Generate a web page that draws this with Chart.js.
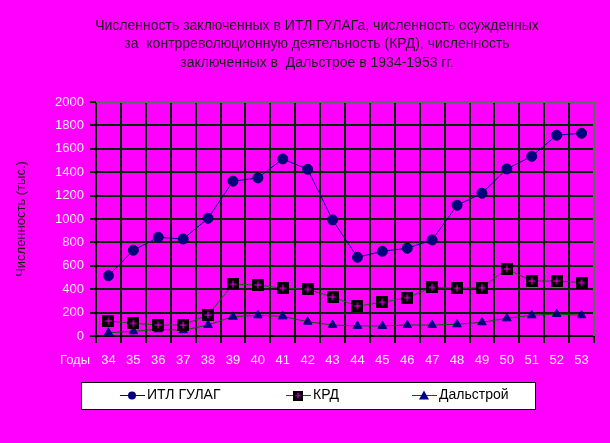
<!DOCTYPE html>
<html>
<head>
<meta charset="utf-8">
<script src="https://cdn.jsdelivr.net/npm/chart.js@4"></script>
<style>
	html, body { margin: 0; padding: 0; background: #ff00ff; }
	#wrap { width: 610px; height: 443px; }
</style>
</head>
<body>
<div id="wrap"><canvas id="myChart" width="610" height="443"></canvas></div>
<script>
const years = ['34','35','36','37','38','39','40','41','42','43','44','45','46','47','48','49','50','51','52','53'];
const gulag = [515, 733, 844, 829, 1006, 1323, 1351, 1513, 1425, 992, 673, 724, 750, 821, 1117, 1220, 1428, 1536, 1716, 1733];
const krd = [128, 108, 94, 94, 180, 442, 436, 408, 399, 333, 256, 288, 328, 416, 408, 413, 573, 470, 470, 456];
const dalstroy = [28, 40, 57, 49, 94, 165, 177, 168, 122, 94, 86, 86, 94, 94, 100, 117, 151, 177, 188, 177];
const yTicks = [0, 200, 400, 600, 800, 1000, 1200, 1400, 1600, 1800, 2000];
const titleLines = [
	'Численность заключенных в ИТЛ ГУЛАГа, численность осужденных',
	'за  контрреволюционную деятельность (КРД), численность',
	'заключенных в  Дальстрое в 1934-1953 гг.'
];
const FONT = '"Liberation Sans", Arial, sans-serif';
const GRID = '#002a00';

// black square with a magenta cross for the KRD series
function krdMarker(){
	const c = document.createElement('canvas');
	c.width = 12; c.height = 12;
	const g = c.getContext('2d');
	g.fillStyle = '#000000';
	g.fillRect(0, 0, 12, 12);
	g.strokeStyle = '#ff00ff';
	g.lineWidth = 1;
	g.beginPath();
	g.moveTo(6, 2.5); g.lineTo(6, 9.5);
	g.moveTo(2.5, 6); g.lineTo(9.5, 6);
	g.stroke();
	return c;
}
const krdPoint = krdMarker();

const decor = {
	id: 'decor',
	beforeDraw(chart){
		const ctx = chart.ctx;
		ctx.save();
		ctx.fillStyle = '#ff00ff';
		ctx.fillRect(0, 0, chart.width, chart.height);
		ctx.restore();
	},
	afterDraw(chart){
		const ctx = chart.ctx;
		const a = chart.chartArea;
		ctx.save();
		// frame of the plot
		ctx.strokeStyle = '#808080';
		ctx.lineWidth = 1.5;
		ctx.beginPath();
		ctx.moveTo(a.left, a.top); ctx.lineTo(a.right, a.top); ctx.lineTo(a.right, a.bottom);
		ctx.stroke();

		// title
		ctx.fillStyle = '#1a1a1a';
		ctx.font = '14px ' + FONT;
		ctx.textAlign = 'center';
		ctx.textBaseline = 'middle';
		titleLines.forEach((t, i) => ctx.fillText(t, 317, 26 + i * 18.5));

		// "Годы" before the year labels
		ctx.fillStyle = '#f2f2f2';
		ctx.font = '13px ' + FONT;
		ctx.textAlign = 'left';
		ctx.fillText('Годы', 60, 360);

		// legend
		ctx.fillStyle = '#ffffff';
		ctx.fillRect(81, 382, 454, 27);
		ctx.strokeStyle = '#000000';
		ctx.lineWidth = 1;
		ctx.strokeRect(81.5, 382.5, 454, 27);
		const xs = [120, 286, 412];
		chart.data.datasets.forEach((ds, i) => {
			const x = xs[i], y = 395.5;
			ctx.strokeStyle = ds.borderColor;
			ctx.lineWidth = 1;
			ctx.beginPath(); ctx.moveTo(x, y); ctx.lineTo(x + 25, y); ctx.stroke();
			const cx = x + 12;
			if (i === 0){
				ctx.fillStyle = '#000080';
				ctx.beginPath(); ctx.arc(cx, y, 4, 0, Math.PI * 2); ctx.fill();
			} else if (i === 1){
				ctx.drawImage(krdPoint, cx - 5, y - 5, 10, 10);
			} else {
				ctx.fillStyle = '#000080';
				ctx.beginPath(); ctx.moveTo(cx, y - 5); ctx.lineTo(cx + 5, y + 4); ctx.lineTo(cx - 5, y + 4); ctx.closePath(); ctx.fill();
			}
			ctx.fillStyle = '#000000';
			ctx.font = '14px ' + FONT;
			ctx.textAlign = 'left';
			ctx.fillText(ds.label, x + 27, y);
		});
		ctx.restore();
	}
};

const ctx = document.getElementById('myChart').getContext('2d');
new Chart(ctx, {
	type: 'line',
	data: {
		labels: years,
		datasets: [{
			label: 'ИТЛ ГУЛАГ',
			data: gulag,
			borderColor: '#000080',
			borderWidth: 1,
			backgroundColor: '#000080',
			pointStyle: 'circle',
			pointRadius: 5,
			pointBorderColor: '#000050',
			pointBorderWidth: 1,
			fill: false,
		}, {
			label: 'КРД',
			data: krd,
			borderColor: '#1a5a1a',
			borderWidth: 1,
			backgroundColor: '#000000',
			pointStyle: krdPoint,
			fill: false,
		}, {
			label: 'Дальстрой',
			data: dalstroy,
			borderColor: '#006000',
			borderWidth: 1,
			backgroundColor: '#000080',
			pointBorderColor: '#000080',
			pointStyle: 'triangle',
			pointRadius: 5,
			fill: false,
		}]
	},
	options: {
		responsive: false,
		animation: false,
		layout: { padding: { top: 102, right: 16, left: 0, bottom: 0 } },
		plugins: {
			legend: { display: false },
			title: { display: false },
			tooltip: { enabled: false }
		},
		scales: {
			x: {
				offset: true,
				grid: { color: GRID, lineWidth: 2, offset: true, tickLength: 7 },
				border: { color: '#000000', width: 2 },
				ticks: { color: '#f2f2f2', font: { size: 13, family: FONT }, padding: 10, maxRotation: 0, autoSkip: false },
				afterFit(scale){ scale.height = 107; }
			},
			y: {
				min: 0,
				max: 2000,
				afterBuildTicks(scale){ scale.ticks = yTicks.map(v => ({ value: v })); },
				grid: { color: GRID, lineWidth: 2, tickLength: 6 },
				border: { color: '#000000', width: 2 },
				ticks: {
					color: '#f2f2f2',
					font: { size: 13, family: FONT },
					padding: 6,
					callback: (v) => String(v)
				},
				title: {
					display: true,
					text: 'Численность (тыс.)',
					color: '#1a1a1a',
					font: { size: 13, family: FONT },
					padding: { top: 14, bottom: 0 }
				},
				afterFit(scale){ scale.width = 96; }
			}
		}
	},
	plugins: [decor]
});
</script>
</body>
</html>
